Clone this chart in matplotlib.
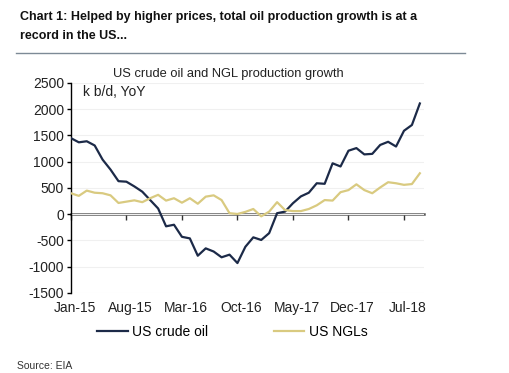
import numpy as np
import matplotlib
matplotlib.use("Agg")
import matplotlib.pyplot as plt
import matplotlib.transforms as mtransforms

plt.rcParams["font.family"] = ["Liberation Sans", "DejaVu Sans"]

TITLE = "Chart 1: Helped by higher prices, total oil production growth is at a\nrecord in the US..."
SUBTITLE = "US crude oil and NGL production growth"
UNITS = "k b/d, YoY"
SOURCE = "Source: EIA"

# monthly YoY change, k b/d
crude = [1450, 1370, 1390, 1310, 1040, 850, 630, 620, 530, 430,
         270, 110, -230, -200, -430, -460, -790, -650, -710, -820,
         -770, -930, -620, -440, -490, -360, 20, 50, 210, 340,
         410, 590, 580, 970, 910, 1210, 1260, 1140, 1150, 1320,
         1380, 1290, 1590, 1700, 2110]
ngl = [400, 350, 450, 410, 400, 360, 215, 240, 265, 230,
       305, 370, 260, 305, 220, 305, 200, 335, 360, 270,
       20, 5, 45, 100, -40, 50, 230, 80, 60, 60,
       100, 170, 270, 260, 420, 460, 570, 460, 400, 510,
       610, 590, 560, 575, 780]
tick_labels = ["Jan-15", "Aug-15", "Mar-16", "Oct-16", "May-17", "Dec-17", "Jul-18"]
tick_pos = [0, 7, 14, 21, 28, 35, 42]
yticks = [-1500, -1000, -500, 0, 500, 1000, 1500, 2000, 2500]

CRUDE_C = "#1c2a48"
NGL_C = "#d9ca80"

fig = plt.figure(figsize=(5.10, 3.73), dpi=100)
ax = fig.add_axes([0.139, 0.2145, 0.692, 0.563])

x = np.arange(len(crude))
ax.plot(x, crude, color=CRUDE_C, lw=1.6, label="US crude oil", zorder=3)
ax.plot(x, ngl, color=NGL_C, lw=1.6, label="US NGLs", zorder=3)

ax.set_xlim(0, len(crude) - 0.5)
ax.set_ylim(-1500, 2500)
ax.set_yticks(yticks)
ax.set_yticklabels([str(v) for v in yticks], fontsize=10, color="#222222")
ax.grid(axis="y", color="#f0f0f0", lw=0.8)
ax.set_axisbelow(True)

for s in ["top", "right", "bottom"]:
    ax.spines[s].set_visible(False)
ax.spines["left"].set_color("black")
ax.spines["left"].set_linewidth(1.0)
ax.tick_params(axis="y", direction="out", length=3, width=1, pad=2)

ax.set_xticks(tick_pos)
ax.set_xticklabels(tick_labels, fontsize=10, color="#222222")
ax.tick_params(axis="x", length=0, pad=6)
shift = mtransforms.ScaledTranslation(4 / 100, 0, fig.dpi_scale_trans)
for lab in ax.get_xticklabels():
    lab.set_transform(lab.get_transform() + shift)

# zero line with its own tick marks
zero = ax.secondary_xaxis(1500 / 4000)
zero.set_xticks(tick_pos)
zero.set_xticklabels([])
zero.spines["bottom"].set_color("#5a5a5a")
zero.spines["bottom"].set_linewidth(1.8)
zero.tick_params(axis="x", direction="out", length=4, width=1, color="#333333")

fig.text(0.039, 1 - 11 / 373, TITLE, fontsize=9, fontweight="bold", va="top",
         ha="left", color="#111111", linespacing=1.8)
fig.add_artist(plt.Line2D([16 / 510, 465 / 510], [1 - 53 / 373] * 2,
                          color="#7d8a96", lw=1.0))
fig.text(228 / 510, 1 - 74 / 373, SUBTITLE, fontsize=9.3, ha="center",
         va="center", color="#222222")
fig.text(83 / 510, 1 - 92 / 373, UNITS, fontsize=10, ha="left",
         va="center", color="#222222")
fig.text(17 / 510, 1 - 366 / 373, SOURCE, fontsize=7.5, ha="left",
         va="center", color="#333333")

fig.legend(loc="center left", bbox_to_anchor=(97 / 510, 1 - 332 / 373),
           ncol=2, frameon=False, fontsize=10, handlelength=2.2,
           handletextpad=0.35, columnspacing=4.7, borderpad=0,
           borderaxespad=0)

fig.savefig("out.png", dpi=100)
